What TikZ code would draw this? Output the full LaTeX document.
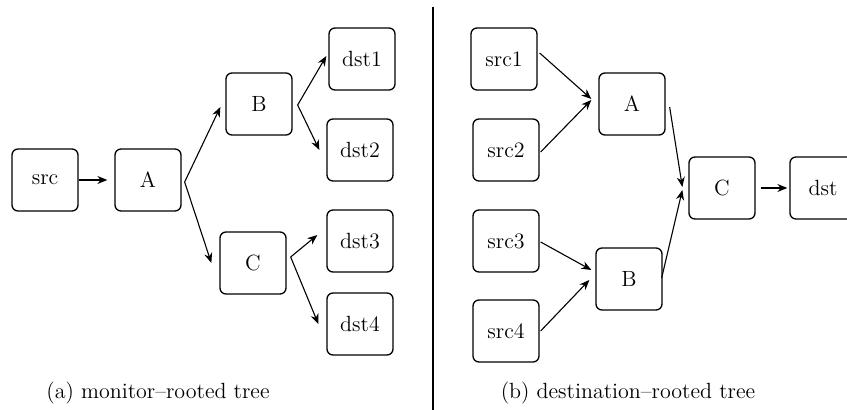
\documentclass[tikz,border=0pt]{standalone}
\usepackage{tikz}
\usetikzlibrary{arrows.meta}

\tikzset{
    box/.style={draw, rounded corners=3pt, line width=0.65pt, minimum width=33pt, minimum height=31pt, inner sep=0pt},
    link/.style={-{Stealth[length=5pt,width=4pt]}, line width=0.55pt}
}

\begin{document}
\begin{tikzpicture}[x=0.5pt, y=-0.5pt, font=\fontsize{11}{13.5}\selectfont]
        \useasboundingbox (0,0) rectangle (847,410);

        % monitor-rooted tree
        \node[box] (lsrc) at (45,180) {src};
        \node[box] (la) at (148,180) {A};
        \node[box] (lb) at (259,104) {B};
        \node[box] (lc) at (253,263) {C};
        \node[box] (ldst1) at (362,59) {dst1};
        \node[box] (ldst2) at (360,150) {dst2};
        \node[box] (ldst3) at (360,241) {dst3};
        \node[box] (ldst4) at (360,324) {dst4};

        \draw[link] (lsrc.east) -- ([xshift=-3.5pt]la.west);
        \draw[link] ([xshift=1.5pt,yshift=-1pt]la.east) -- ([xshift=-2.5pt,yshift=-1.5pt]lb.west);
        \draw[link] ([xshift=1.5pt,yshift=-1pt]la.east) -- ([xshift=-4pt]lc.west);
        \draw[link] ([xshift=2.5pt,yshift=-0.5pt]lb.east) -- ([xshift=-1pt,yshift=1.5pt]ldst1.west);
        \draw[link] ([xshift=2.5pt,yshift=-0.5pt]lb.east) -- ([xshift=-3.5pt]ldst2.west);
        \draw[link] ([xshift=2pt,yshift=3pt]lc.east) -- ([xshift=-4.5pt,yshift=3pt]ldst3.west);
        \draw[link] ([xshift=2pt,yshift=3pt]lc.east) -- ([xshift=-4pt]ldst4.west);

        \node[anchor=base] (capa) at (158,399) {(a) monitor--rooted tree};

        % divider
        \draw[line width=0.65pt] (433,7) -- (433,410);

        % destination-rooted tree
        \node[box] (rsrc1) at (504,59) {src1};
        \node[box] (rsrc2) at (506,150) {src2};
        \node[box] (rsrc3) at (506,241) {src3};
        \node[box] (rsrc4) at (506,331) {src4};
        \node[box] (ra) at (632,104) {A};
        \node[box] (rb) at (629,279) {B};
        \node[box] (rc) at (722,188) {C};
        \node[box] (rdst) at (823,188) {dst};

        \draw[link] ([xshift=1pt,yshift=3pt]rsrc1.east) -- ([xshift=-3.5pt,yshift=2.5pt]ra.west);
        \draw[link] ([xshift=0.5pt,yshift=-1pt]rsrc2.east) -- ([xshift=-3.5pt,yshift=2pt]ra.west);
        \draw[link] ([xshift=0.5pt,yshift=-0.5pt]rsrc3.east) -- ([xshift=-2pt,yshift=4.5pt]rb.west);
        \draw[link] ([xshift=0.5pt]rsrc4.east) -- ([xshift=-3pt,yshift=-0.5pt]rb.west);
        \draw[link] ([xshift=2pt,yshift=-1.5pt]ra.east) -- ([xshift=-3pt,yshift=0.5pt]rc.west);
        \draw[link] ([xshift=-0.5pt,yshift=0.5pt]rb.east) -- ([xshift=-3pt,yshift=-1pt]rc.west);
        \draw[link] ([xshift=2.5pt]rc.east) -- ([xshift=-1pt]rdst.west);

        \node[anchor=base] (capb) at (628,399) {(b) destination--rooted tree};
\end{tikzpicture}
\end{document}
